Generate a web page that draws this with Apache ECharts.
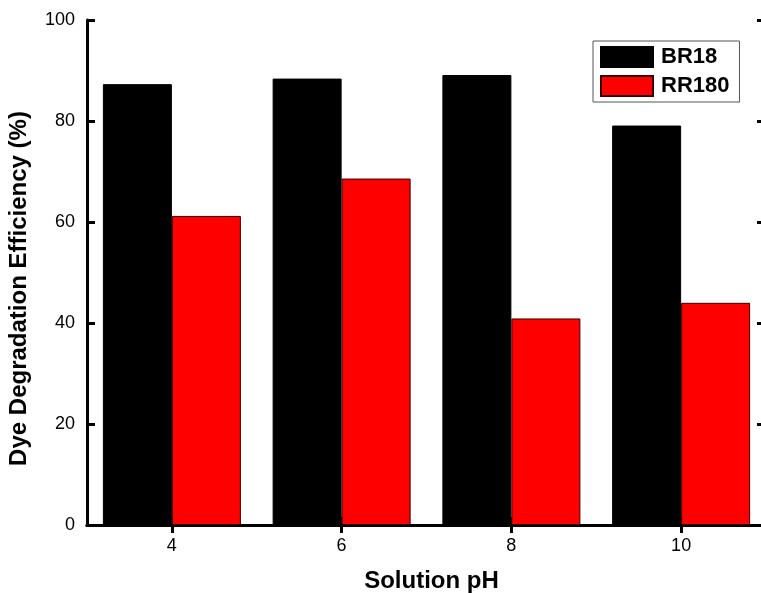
<!DOCTYPE html>
<html>
<head>
<meta charset="utf-8">
<script src="https://cdn.jsdelivr.net/npm/echarts@6/dist/echarts.min.js"></script>
<style>html,body{margin:0;padding:0;background:#fff}#c{width:761px;height:593px}</style>
</head>
<body>
<div id="c"></div>
<script>
const categories = ['4', '6', '8', '10'];
const br18 = [87.3, 88.4, 89.1, 79.1];
const rr180 = [61.2, 68.6, 40.9, 44.0];
const yTicks = { min: 0, max: 100, interval: 20 };

const FONT = 'Liberation Sans, Arial, sans-serif';
const chart = echarts.init(document.getElementById('c'), null, { renderer: 'canvas' });
const axisLine = { show: true, lineStyle: { color: '#000', width: 3 } };
chart.setOption({
  animation: false,
  backgroundColor: '#fff',
  grid: { left: 87, width: 679, top: 20, height: 505, containLabel: false, outerBoundsMode: 'none' },
  legend: {
    orient: 'vertical', left: 593, top: 41,
    padding: [5, 10, 5, 7], itemGap: 7,
    itemWidth: 52, itemHeight: 20, icon: 'rect',
    borderColor: '#555', borderWidth: 1, backgroundColor: '#fff',
    textStyle: { fontFamily: FONT, fontSize: 22, fontWeight: 'bold', color: '#000', padding: [0, 0, 0, 3] },
    data: ['BR18', 'RR180']
  },
  xAxis: [
    {
      type: 'category', data: categories, position: 'bottom',
      axisLine: axisLine,
      axisTick: { show: true, inside: true, length: 8, alignWithLabel: true, lineStyle: { width: 3, color: '#000' } },
      axisLabel: { fontFamily: FONT, fontSize: 18, color: '#000', margin: 12 },
      splitLine: { show: false },
      name: 'Solution pH', nameLocation: 'middle', nameGap: 44,
      nameTextStyle: { fontFamily: FONT, fontSize: 24, fontWeight: 'bold', color: '#000', padding: [0, 0, 0, 10] }
    },
    {
      type: 'category', data: categories, position: 'top',
      axisLine: axisLine,
      axisTick: { show: true, inside: true, length: 8, alignWithLabel: true, lineStyle: { width: 3, color: '#000' } },
      axisLabel: { show: false }, splitLine: { show: false }
    }
  ],
  yAxis: [
    {
      type: 'value', min: yTicks.min, max: yTicks.max, interval: yTicks.interval, position: 'left',
      axisLine: axisLine,
      axisTick: { show: true, inside: true, length: 8, lineStyle: { width: 3, color: '#000' } },
      axisLabel: { fontFamily: FONT, fontSize: 18, color: '#000', margin: 12 },
      splitLine: { show: false },
      name: 'Dye Degradation Efficiency (%)', nameLocation: 'middle', nameGap: 56,
      nameTextStyle: { fontFamily: FONT, fontSize: 24, fontWeight: 'bold', color: '#000', padding: [0, 32, 0, 0] }
    },
    {
      type: 'value', min: yTicks.min, max: yTicks.max, interval: yTicks.interval, position: 'right',
      axisLine: axisLine,
      axisTick: { show: true, inside: true, length: 9, lineStyle: { width: 3, color: '#000' } },
      axisLabel: { show: false }, splitLine: { show: false }
    }
  ],
  series: [
    {
      name: 'BR18', type: 'bar', data: br18, barWidth: 69, barGap: '0%',
      itemStyle: { color: '#000', borderColor: '#000', borderWidth: 1 }
    },
    {
      name: 'RR180', type: 'bar', data: rr180, barWidth: 69, barGap: '0%',
      itemStyle: { color: '#ff0000', borderColor: '#3a0000', borderWidth: 1 }
    }
  ]
});
</script>
</body>
</html>
